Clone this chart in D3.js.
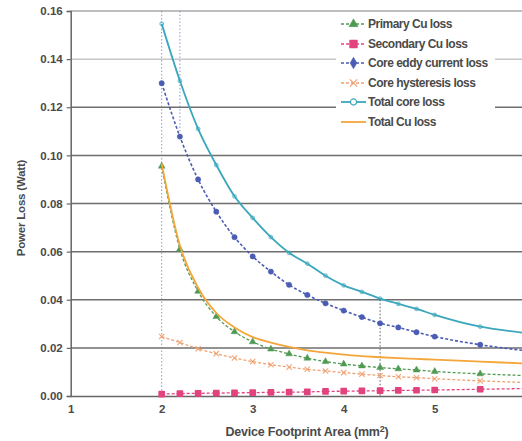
<!DOCTYPE html>
<html><head><meta charset="utf-8">
<script src="https://cdn.jsdelivr.net/npm/d3@7"></script>
<style>
html,body{margin:0;padding:0;background:#fff;}
svg{display:block;font-family:"Liberation Sans",Arial,sans-serif;}
</style></head>
<body>
<div id="chart"></div>
<script>
const areas = [2.0,2.2,2.4,2.6,2.8,3.0,3.2,3.4,3.6,3.8,4.0,4.2,4.4,4.6,4.8,5.0,5.5,6.0];
const primaryCu   = [0.0955,0.0610,0.0435,0.0330,0.0267,0.0225,0.0195,0.0175,0.0157,0.0143,0.0133,0.0125,0.0118,0.0113,0.0108,0.0102,0.0092,0.0085];
const secondaryCu = [0.0008,0.0010,0.0011,0.0012,0.0013,0.0014,0.0015,0.0016,0.0017,0.0019,0.0020,0.0021,0.0022,0.0023,0.0024,0.0025,0.0028,0.0031];
const coreEddy    = [0.1300,0.1078,0.0900,0.0766,0.0660,0.0580,0.0517,0.0462,0.0420,0.0385,0.0355,0.0328,0.0302,0.0285,0.0265,0.0247,0.0213,0.0188];
const coreHyst    = [0.0247,0.0222,0.0196,0.0176,0.0158,0.0143,0.0130,0.0120,0.0111,0.0104,0.0097,0.0091,0.0085,0.0080,0.0076,0.0072,0.0063,0.0056];
const totalCore   = [0.1547,0.1310,0.1110,0.0960,0.0830,0.0740,0.0660,0.0595,0.0550,0.0500,0.0460,0.0433,0.0405,0.0383,0.0362,0.0337,0.0288,0.0262];
const totalCu     = [0.0965,0.0625,0.0450,0.0345,0.0285,0.0245,0.0222,0.0204,0.0190,0.0180,0.0172,0.0166,0.0161,0.0157,0.0154,0.0151,0.0143,0.0135];
const seriesNames = ["Primary Cu loss","Secondary Cu loss","Core eddy current loss","Core hysteresis loss","Total core loss","Total Cu loss"];
const yTicks = [0,0.02,0.04,0.06,0.08,0.10,0.12,0.14,0.16];
const xTicks = [1,2,3,4,5,6];

const W=522,H=441;
const svg=d3.select("#chart").append("svg").attr("width",W).attr("height",H);
const x=d3.scaleLinear().domain([1,6]).range([70.7,525.7]);
const y=d3.scaleLinear().domain([0,0.16]).range([396,11]);

// gridlines
svg.append("g").selectAll("line").data(yTicks.filter(d=>d>0)).join("line")
  .attr("x1",x(1)).attr("x2",W).attr("y1",d=>y(d)).attr("y2",d=>y(d))
  .attr("stroke",d=>d===0.14?"#c8c8c8":(d===0.16?"#a8a8a8":"#6e6e6e"))
  .attr("stroke-width",1.5);

// guide dotted verticals
svg.append("line").attr("x1",x(2)).attr("x2",x(2)).attr("y1",y(0.16)).attr("y2",y(0))
  .attr("stroke","#6c7fc0").attr("stroke-width",0.8).attr("stroke-dasharray","1.5,2");
svg.append("line").attr("x1",x(2.2)).attr("x2",x(2.2)).attr("y1",y(0.16)).attr("y2",y(0.11))
  .attr("stroke","#6c7fc0").attr("stroke-width",0.8).attr("stroke-dasharray","1.5,2");
svg.append("line").attr("x1",x(4.4)).attr("x2",x(4.4)).attr("y1",y(0.04)).attr("y2",y(0))
  .attr("stroke","#333").attr("stroke-width",0.8).attr("stroke-dasharray","1.5,2");

// legend background (covers gridlines)
svg.append("rect").attr("x",336).attr("y",12).attr("width",159).attr("height",128).attr("fill","#fff");

// axes
const yAxis=d3.axisLeft(y).tickValues(yTicks).tickFormat(d3.format(".2f")).tickSize(4).tickPadding(4);
const gy=svg.append("g").attr("transform",`translate(${x(1)},0)`).call(yAxis);
gy.select(".domain").attr("stroke","#666").attr("stroke-width",1.5);
gy.selectAll(".tick line").attr("stroke","#666").attr("stroke-width",1.2);
gy.selectAll("text").attr("fill","#4a4a4a").attr("font-size","11.5px").attr("font-weight","bold");

const xAxis=d3.axisBottom(x).tickValues(xTicks).tickFormat(d3.format("d")).tickSize(0).tickPadding(9);
const gx=svg.append("g").attr("transform",`translate(0,${y(0)})`).call(xAxis);
gx.select(".domain").attr("stroke","#666").attr("stroke-width",1.5);
gx.selectAll("text").attr("fill","#4a4a4a").attr("font-size","11.5px").attr("font-weight","bold");

svg.append("text").attr("x",307).attr("y",436).attr("text-anchor","middle")
  .attr("fill","#4a4a4a").attr("font-size","12.5px").attr("font-weight","bold")
  .attr("letter-spacing","-0.2")
  .html('Device Footprint Area (mm<tspan dy="-4" font-size="9px">2</tspan><tspan dy="4">)</tspan>');
svg.append("text").attr("transform","translate(25,208) rotate(-90)").attr("text-anchor","middle")
  .attr("fill","#4a4a4a").attr("font-size","11.5px").attr("font-weight","bold").attr("letter-spacing","-0.2")
  .text("Power Loss (Watt)");

const styles=[
  {vals:primaryCu,  color:"#4f9a52", dash:"3,2", width:1.3, sym:d3.symbolTriangle, size:20, fill:true},
  {vals:secondaryCu,color:"#e2437f", dash:"3,2", width:1.3, sym:d3.symbolSquare, size:26, fill:true},
  {vals:coreEddy,   color:"#4a5cb4", dash:"3,2", width:1.6, sym:d3.symbolCircle, size:22, fill:true, legSym:d3.symbolDiamond},
  {vals:coreHyst,   color:"#f0a070", dash:"3,2", width:1.3, sym:d3.symbolX, size:20, fill:false},
  {vals:totalCore,  color:"#3aa7bd", dash:null,  width:1.8, sym:d3.symbolCircle, size:10, fill:false},
  {vals:totalCu,    color:"#f4a63a", dash:null,  width:1.8, sym:null, size:0, fill:false}
];

const line=d3.line().x((d,i)=>x(areas[i])).y(d=>y(d)).curve(d3.curveMonotoneX);
styles.forEach(s=>{
  svg.append("path").datum(s.vals).attr("d",line).attr("fill","none")
    .attr("stroke",s.color).attr("stroke-width",s.width)
    .attr("stroke-dasharray",s.dash);
  if(s.sym){
    svg.append("g").selectAll("path").data(s.vals).join("path")
      .attr("transform",(d,i)=>`translate(${x(areas[i])},${y(d)})`)
      .attr("d",d3.symbol().type(s.sym).size(s.size))
      .attr("fill",s.fill?s.color:"none").attr("stroke",s.color)
      .attr("stroke-linejoin","round")
      .attr("stroke-width",s.fill?(s.sym===d3.symbolSquare?1.6:0.5):1.1)
      .attr("opacity",s.sym===d3.symbolX?0.95:(s.fill?1:0.7));
  }
});

// legend
const lg=svg.append("g");
const rowY=[24,44,63,83,102,122];
styles.forEach((s,i)=>{
  const g=lg.append("g").attr("transform",`translate(0,${rowY[i]})`);
  g.append("line").attr("x1",341).attr("x2",366).attr("y1",0).attr("y2",0)
    .attr("stroke",s.color).attr("stroke-width",s.width).attr("stroke-dasharray",s.dash);
  if(s.sym){
    g.append("path").attr("transform","translate(353.5,0)")
      .attr("d",d3.symbol().type(s.legSym||s.sym).size(Math.max(s.size*1.8,30)))
      .attr("fill",s.fill?s.color:"#fff").attr("stroke",s.color)
      .attr("stroke-linejoin","round").attr("stroke-width",s.fill?(s.sym===d3.symbolSquare?1.6:0.5):1.2);
  }
  g.append("text").attr("x",368).attr("y",4).attr("fill","#4a4a4a")
    .attr("font-size","12px").attr("font-weight","bold").attr("letter-spacing","-0.5")
    .text(seriesNames[i]);
});
</script>
</body></html>
